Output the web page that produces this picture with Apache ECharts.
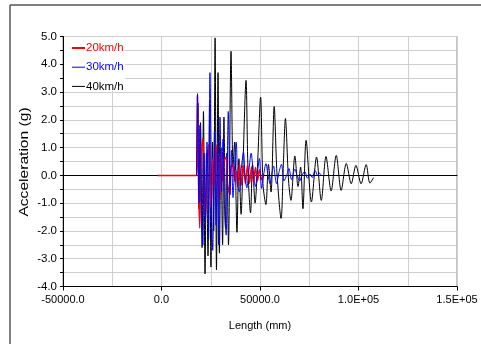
<!DOCTYPE html>
<html>
<head>
<meta charset="utf-8">
<script src="https://cdn.jsdelivr.net/npm/echarts@6/dist/echarts.min.js"></script>
<style>
  html, body { margin: 0; padding: 0; background: #ffffff; }
  #chart { width: 481px; height: 344px; }
</style>
</head>
<body>
<div id="chart"></div>
<script>
// Series names (vehicle speed)
const speedNames = ['20km/h', '30km/h', '40km/h'];

// 20 km/h: position along the track (mm) and vertical acceleration (g)
const len20 = [-2000, 17900, 18200, 18800, 19400, 20000, 21000, 21600, 22300, 23100, 23900, 24600, 25200, 25900,
  26600, 27700, 28400, 29400, 30300, 31000, 31700, 32800, 33500, 34500, 35300, 36200, 37100, 37800, 38700,
  39600, 40600, 41600, 42600, 43700, 44700, 45700, 46700, 47700, 48700, 49700, 50800, 51800];
const acc20 = [0, 0, 2.88, -0.3, -1.9, 0.5, 1.35, -0.4, -1.5, 0.3, 1.1, 0.0, -1.15, 0.6,
  -0.4, 1.1, 0.1, -0.9, 0.8, -0.2, 0.5, 0.66, -0.3, -0.66, 0.3, 0.42, -0.2, 0.2, -0.42,
  0.42, -0.35, 0.35, -0.3, 0.38, -0.28, 0.3, -0.25, 0.28, -0.2, 0.2, -0.15, 0.05];

// 30 km/h
const len30 = [17800, 18300, 19000, 19500, 20300, 21000, 21600, 22300, 23100, 23900, 24600, 25400, 26000,
  26900, 27700, 28400, 29000, 29700, 30500, 31200, 32000, 32800, 33900, 34800, 35500, 36300, 37100, 37900,
  38800, 39600, 40600, 41600, 42400, 43300, 44400, 45500, 46700, 47700, 48700, 49700, 50800, 51800, 53000,
  54100, 55100, 56100, 56900, 57600, 58400, 59600, 60900, 62200, 63500, 64700, 66000, 67700, 68800, 70200,
  71300, 72700, 74100, 75400, 76600, 77900, 79300, 80200, 81200];
const acc30 = [0, 2.94, -1.0, 1.8, -1.5, -2.5, 0.8, -1.6, 1.2, -2.3, 3.7, -1.0, -2.7,
  1.6, -1.8, 0.9, -2.5, 2.1, -0.6, 1.3, -1.2, -2.15, 2.3, -0.7, 0.9, -0.8, 0.3, 1.2,
  -0.4, -0.6, 0.3, 0.84, 0.0, -0.45, 0.2, 0.8, 0.0, -0.4, 0.1, 0.61, -0.47, 0.0, 0.42,
  0.0, -0.3, 0.1, 0.34, 0.0, -0.3, 0.1, 0.4, -0.2, 0.0, 0.25, -0.15, 0.23, 0.0, -0.2,
  0.0, 0.14, -0.1, 0.05, -0.08, 0.18, 0.0, 0.08, 0.0];

// 40 km/h
const len40 = [17800, 18500, 19000, 19800, 20600, 21300, 22100, 22800, 23600, 24400, 25100, 25900, 26500,
  27200, 27900, 28700, 29400, 30200, 31000, 31700, 32500, 33200, 34000, 35300, 36300, 37100, 38300, 39300,
  40400, 41400, 42900, 43900, 45200, 46200, 47500, 48700, 50300, 51500, 53000, 54300, 55600, 57200, 58600,
  60700, 61900, 62900, 64500, 65700, 67700, 69300, 70600, 71800, 73400, 76100, 78700, 81100, 83500, 86100,
  88700, 91200, 93800, 96300, 98700, 101300, 103900, 105800, 107600];
const acc40 = [0, 2.6, -1.2, 1.9, -2.6, 2.3, -3.55, 0.8, -2.9, 2.7, -3.3, 1.2, -2.0,
  4.95, -3.4, 3.7, -2.8, 1.0, -2.5, 2.1, -1.9, 0.8, -2.5, 4.47, 0.3, 1.2, -2.05, 0.6,
  -1.4, 0.5, 3.42, 0.2, -1.35, 0.4, -1.0, 0.3, 2.82, -0.3, -1.05, 0.4, -0.6, 2.48, 0.1,
  -1.55, 0.5, 2.05, -0.2, -0.9, 0.7, -0.4, 0.3, -1.2, 1.26, -0.96, 0.66, -0.9, 0.68, -0.56,
  0.72, -0.54, 0.43, -0.3, 0.36, -0.3, 0.39, -0.28, -0.08];

// Axis ranges and tick spacing
const xMin = -50000, xMax = 150000, xStep = 50000;
const yMin = -4, yMax = 5, yStep = 1;

const seriesColors = ['#ff0000', '#0000ff', '#000000'];
const seriesWidths = [1.5, 1, 1];
const seriesLayers = [3, 4, 2];
const legendLineWidths = [2, 1, 1];
const FONT = 'Liberation Sans, Arial, sans-serif';

function zip(xs, ys) { return xs.map((x, i) => [x, ys[i]]); }

function formatLength(v) {
  if (Math.abs(v) >= 1e5) {
    const e = Math.floor(Math.log10(Math.abs(v)));
    const m = v / Math.pow(10, e);
    return m.toFixed(1) + 'E+' + String(e).padStart(2, '0');
  }
  return v.toFixed(1);
}

const chart = echarts.init(document.getElementById('chart'), null, { renderer: 'canvas' });

const lineSeries = (i, data) => ({
  name: speedNames[i],
  type: 'line',
  data: data,
  symbol: 'none',
  smooth: 0.3,
  z: seriesLayers[i],
  animation: false,
  lineStyle: { color: seriesColors[i], width: seriesWidths[i] },
  itemStyle: { color: seriesColors[i] }
});

// Legend box drawn in the upper-left corner of the plot
const legendTop = 48, legendPitch = 19.2;
const legendGraphics = [{
  type: 'rect', shape: { x: 64, y: 37.5, width: 61, height: 53 },
  style: { fill: '#ffffff' }, z: 10, silent: true
}];
speedNames.forEach((name, i) => {
  const y = legendTop + i * legendPitch;
  legendGraphics.push({
    type: 'line', shape: { x1: 72, y1: y, x2: 85, y2: y },
    style: { stroke: seriesColors[i], lineWidth: legendLineWidths[i] }, z: 11, silent: true
  });
  legendGraphics.push({
    type: 'text', x: 86, y: y,
    style: { text: name, fontFamily: FONT, fontSize: 11.5, fill: seriesColors[i],
      align: 'left', verticalAlign: 'middle' },
    z: 11, silent: true
  });
});

chart.setOption({
  animation: false,
  grid: {
    left: 63, top: 36.5, right: 24, bottom: 57.5,
    show: true, borderColor: '#8a8a8a', borderWidth: 1, backgroundColor: 'transparent'
  },
  xAxis: [{
    type: 'value',
    min: xMin, max: xMax, interval: xStep,
    name: 'Length (mm)',
    nameLocation: 'middle', nameGap: 34,
    nameTextStyle: { fontFamily: FONT, fontSize: 11, color: '#000' },
    axisLine: { onZero: false, lineStyle: { color: '#000', width: 1 } },
    axisTick: { show: true, length: 4, lineStyle: { color: '#000' } },
    axisLabel: { fontFamily: FONT, fontSize: 11, color: '#000', margin: 8, formatter: formatLength,
      showMinLabel: true, showMaxLabel: true },
    splitLine: { show: true, lineStyle: { color: '#cfcfcf', width: 1 } },
    minorTick: { show: false, splitNumber: 2 },
    minorSplitLine: { show: true, lineStyle: { color: '#cfcfcf', width: 1 } }
  }, {
    // horizontal reference line at zero acceleration
    type: 'value',
    min: xMin, max: xMax,
    axisLine: { show: true, onZero: true, lineStyle: { color: '#000', width: 1 } },
    axisTick: { show: false }, axisLabel: { show: false }, splitLine: { show: false }
  }],
  yAxis: {
    type: 'value',
    min: yMin, max: yMax, interval: yStep,
    axisLine: { show: true, onZero: false, lineStyle: { color: '#000', width: 1 } },
    axisTick: { show: true, length: 3, lineStyle: { color: '#000' } },
    minorTick: { show: true, splitNumber: 2, length: 3, lineStyle: { color: '#000' } },
    axisLabel: { fontFamily: FONT, fontSize: 11.5, color: '#000', margin: 6,
      formatter: v => v.toFixed(1) },
    splitLine: { show: true, lineStyle: { color: '#cfcfcf', width: 1 } },
    minorSplitLine: { show: true, lineStyle: { color: '#cfcfcf', width: 1 } }
  },
  graphic: [
    { type: 'line', shape: { x1: 10, y1: 5, x2: 481, y2: 5 }, style: { stroke: '#555', lineWidth: 1.5 }, silent: true },
    { type: 'line', shape: { x1: 10, y1: 5, x2: 10, y2: 344 }, style: { stroke: '#555', lineWidth: 1.5 }, silent: true },
    {
      type: 'text', x: 25, y: 162, rotation: Math.PI / 2, scaleX: 1.3,
      style: { text: 'Acceleration (g)', fontFamily: FONT, fontSize: 12, fill: '#000',
        align: 'center', verticalAlign: 'middle' },
      silent: true
    }
  ].concat(legendGraphics),
  series: [
    lineSeries(0, zip(len20, acc20)),
    lineSeries(1, zip(len30, acc30)),
    lineSeries(2, zip(len40, acc40))
  ]
});
</script>
</body>
</html>
